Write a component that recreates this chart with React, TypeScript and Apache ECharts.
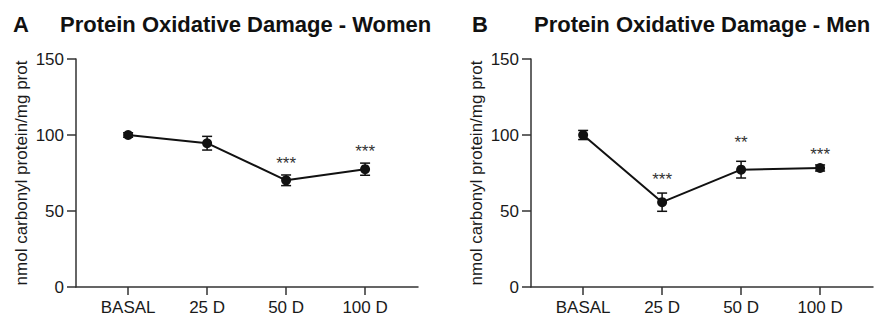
import React, { useEffect, useRef } from "react";
import * as echarts from "echarts";

const categories = ["BASAL", "25 D", "50 D", "100 D"];
const yTicks = [0, 50, 100, 150];

const womenMean = [100, 94.6, 70.2, 77.5];
const womenErr = [1.5, 4.5, 3.5, 4];
const womenStars = ["", "", "***", "***"];
const womenStarY = [null, null, 81, 89];

const menMean = [100, 55.8, 77.2, 78.3];
const menErr = [3, 6, 5.5, 2];
const menStars = ["", "***", "**", "***"];
const menStarY = [null, 71, 95, 87];

const FONT = "'Liberation Sans', Arial, sans-serif";
const TXT = "#1a1a1a";
const AX = "#333";

function xAxisCfg(gridIndex: number) {
  return {
    type: "value",
    gridIndex,
    min: -0.66,
    max: 3.67,
    axisLine: { show: true, onZero: false, lineStyle: { color: AX, width: 1.5 } },
    axisTick: { show: true, customValues: [0, 1, 2, 3], length: 8, lineStyle: { color: AX, width: 1.5 } },
    axisLabel: {
      customValues: [0, 1, 2, 3],
      formatter: (v: number) => categories[Math.round(v)] ?? "",
      fontSize: 17,
      color: TXT,
      fontFamily: FONT,
      margin: 12,
    },
    splitLine: { show: false },
  };
}

function yAxisCfg(gridIndex: number) {
  return {
    type: "value",
    gridIndex,
    min: yTicks[0],
    max: yTicks[yTicks.length - 1],
    interval: 50,
    name: "nmol carbonyl protein/mg prot",
    nameLocation: "middle",
    nameGap: 46,
    nameTextStyle: { fontSize: 17, color: TXT, fontFamily: FONT },
    axisLine: { show: true, onZero: false, lineStyle: { color: AX, width: 1.5 } },
    axisTick: { show: true, length: 9, lineStyle: { color: AX, width: 1.5 } },
    axisLabel: { fontSize: 17, color: TXT, fontFamily: FONT, margin: 12 },
    splitLine: { show: false },
  };
}

function seriesFor(idx: number, mean: number[], err: number[], stars: string[], starY: (number | null)[]) {
  const lineData = mean.map((m, i) => [i, m]);
  const errData = mean.map((m, i) => [i, m - err[i], m + err[i]]);
  const starData = starY
    .map((s, i) => (s == null ? null : [i, s]))
    .filter((d) => d != null);
  const starLabels = stars.filter((s, i) => starY[i] != null);
  return [
    {
      type: "custom",
      xAxisIndex: idx,
      yAxisIndex: idx,
      data: errData,
      encode: { x: 0, y: [1, 2] },
      z: 3,
      renderItem: (params: any, api: any) => {
        const x = api.value(0);
        const lo = api.coord([x, api.value(1)]);
        const hi = api.coord([x, api.value(2)]);
        const hw = 5;
        const st = { stroke: "#111", lineWidth: 1.5 };
        return {
          type: "group",
          children: [
            { type: "line", shape: { x1: lo[0], y1: lo[1], x2: hi[0], y2: hi[1] }, style: st },
            { type: "line", shape: { x1: lo[0] - hw, y1: lo[1], x2: lo[0] + hw, y2: lo[1] }, style: st },
            { type: "line", shape: { x1: hi[0] - hw, y1: hi[1], x2: hi[0] + hw, y2: hi[1] }, style: st },
          ],
        };
      },
    },
    {
      type: "line",
      xAxisIndex: idx,
      yAxisIndex: idx,
      data: lineData,
      symbol: "circle",
      symbolSize: 10,
      lineStyle: { color: "#111", width: 2 },
      itemStyle: { color: "#111" },
      z: 4,
    },
    {
      type: "custom",
      xAxisIndex: idx,
      yAxisIndex: idx,
      data: starData,
      encode: { x: 0, y: 1 },
      z: 5,
      renderItem: (params: any, api: any) => {
        const p = api.coord([api.value(0), api.value(1)]);
        return {
          type: "text",
          x: p[0],
          y: p[1],
          style: {
            text: starLabels[params.dataIndex],
            fontSize: 17,
            fontFamily: FONT,
            fill: "#333",
            align: "center",
            verticalAlign: "middle",
          },
        };
      },
    },
  ];
}

export default function App() {
  const ref = useRef<HTMLDivElement>(null);
  useEffect(() => {
    if (!ref.current) return;
    const chart = echarts.init(ref.current, undefined, { renderer: "svg" });
    const titleStyle = (text: string, x: number) => ({
      type: "text",
      x,
      y: 13,
      style: { text, fontSize: 22, fontWeight: "bold", fontFamily: FONT, fill: "#111", verticalAlign: "top" },
    });
    chart.setOption({
      animation: false,
      backgroundColor: "#fff",
      grid: [
        { left: 76, top: 59, width: 342, height: 228 },
        { left: 531, top: 59, width: 342, height: 228 },
      ],
      xAxis: [xAxisCfg(0), xAxisCfg(1)],
      yAxis: [yAxisCfg(0), yAxisCfg(1)],
      graphic: [
        titleStyle("A", 13),
        titleStyle("Protein Oxidative Damage - Women", 60),
        titleStyle("B", 472),
        titleStyle("Protein Oxidative Damage - Men", 534),
      ],
      series: [
        ...seriesFor(0, womenMean, womenErr, womenStars, womenStarY),
        ...seriesFor(1, menMean, menErr, menStars, menStarY),
      ],
    });
    return () => chart.dispose();
  }, []);
  return <div ref={ref} style={{ position: "fixed", left: 0, top: 0, width: 874, height: 321 }} />;
}
